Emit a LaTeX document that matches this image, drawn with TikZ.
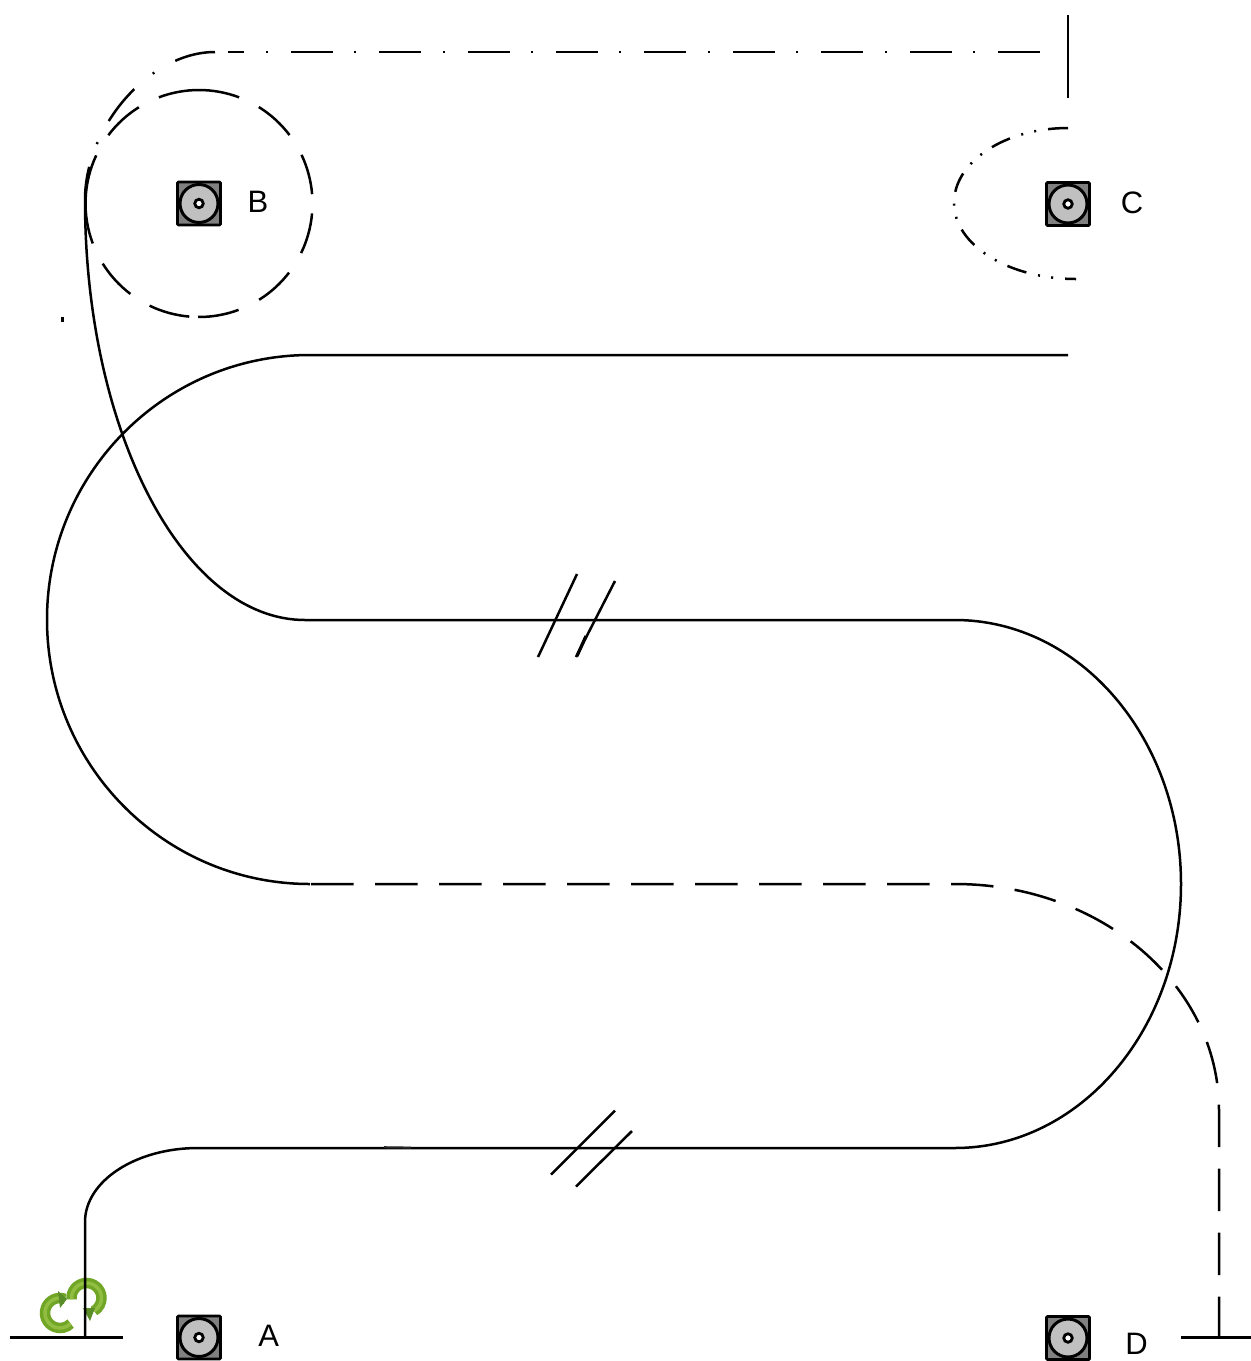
\documentclass[tikz,border=0pt]{standalone}
\usepackage{fontspec}
\usetikzlibrary{calc}
\setmainfont{Liberation Sans}
\tikzset{
  wire/.style={line width=2.5pt,black},
  longdash/.style={wire,dash pattern=on 42.5pt off 21.5pt},
  dashdot/.style={wire,dash pattern=on 42pt off 23pt on 2pt off 21.4pt},
  curvedashdot/.style={wire,dash pattern=on 41pt off 24pt on 2pt off 24pt},
  dashdotdot/.style={wire,dash pattern=on 20pt off 12pt on 2pt off 11.35pt on 2pt off 12pt},
  padsq/.style={draw=black,line width=2.8pt,fill={rgb,255:red,128;green,128;blue,128},rectangle,rounded corners=1pt,minimum size=43pt,inner sep=0pt},
  paddisc/.style={draw=black,line width=3pt,fill={rgb,255:red,192;green,192;blue,192},circle,minimum size=38pt,inner sep=0pt},
  padhole/.style={draw=black,line width=2.8pt,fill=white,circle,minimum size=8.5pt,inner sep=0pt},
  letter/.style={inner sep=0pt,font=\fontsize{31}{31}\selectfont,text=black},
  iconband/.style={line width=10.5pt,color={rgb,255:red,112;green,165;blue,38}},
  iconlight/.style={line width=3.5pt,color={rgb,255:red,145;green,190;blue,65}},
  iconhead/.style={fill={rgb,255:red,90;green,140;blue,40},draw=none},
}
\newcommand{\padsym}[2]{%
  \node[padsq] (#1sq) at (#2) {};
  \node[paddisc] (#1disc) at (#2) {};
  \node[padhole] (#1hole) at (#2) {};
}
\begin{document}
\begin{tikzpicture}[x=1pt,y=1pt,yscale=-1]
\useasboundingbox (0,0) rectangle (1251,1361);

% recycle icon
\draw[iconband] ($(60,1313)+(-70:15)$) arc[start angle=-70,end angle=-315,radius=15];
\draw[iconlight] ($(60,1313)+(-70:15)$) arc[start angle=-70,end angle=-315,radius=15];
\draw[iconband] ($(86.5,1298)+(175:15)$) arc[start angle=175,end angle=420,radius=15];
\draw[iconlight] ($(86.5,1298)+(175:15)$) arc[start angle=175,end angle=420,radius=15];
\fill[iconhead] (58,1291) -- (67,1299) -- (60,1308) -- cycle;
\fill[iconhead] (83,1308) -- (95,1308) -- (90,1321) -- cycle;

% main solid route
\draw[wire] (85,1337) -- (85,1222)
  arc[start angle=180,end angle=270,x radius=113,y radius=74]
  -- (955,1148)
  arc[start angle=90,end angle=-90,x radius=226,y radius=264]
  -- (305,620)
  arc[start angle=90,end angle=180,x radius=220,y radius=420];
% upper solid route
\draw[wire] (1068,355) -- (310,355)
  arc[start angle=-90,end angle=-270,x radius=263,y radius=264.5];
% long-dash route
\draw[longdash] (311,884) -- (955,884)
  arc[start angle=-90,end angle=0,x radius=264,y radius=226]
  -- (1219,1337);
% dash-dot route
\draw[dashdot] (1040,52) -- (228,52);
\draw[curvedashdot] (215,52) .. controls (150,52) and (85,126) .. (85,200);
% end bars
\draw[wire] (1068,15) -- (1068,98);
\draw[wire] (10,1337.5) -- (123,1337.5);
\draw[wire] (1181,1337.5) -- (1251,1337.5);
% circle around B
\foreach \a/\b in {-110.7/-69.3,-58.2/-37.1,-25.4/-4.7,5/25.9,37.5/58,69.6/90.5,94.9/115.8,127.2/148,159.4/205.1,217/238}{
  \draw[wire] ($(199,203.5)+(\a:113.5)$) arc[start angle=\a,end angle=\b,radius=113.5];
}
% half oval around C
\draw[dashdotdot] (1068,128) arc[start angle=-90,end angle=-180,x radius=114,y radius=75]
  arc[start angle=180,end angle=90,x radius=122,y radius=76];
% break marks
\draw[wire] (577,574) -- (538,657);
\draw[wire] (615,581) -- (576,657);
\draw[line width=3.2pt] (577,656) -- (586,636);
\draw[wire] (615,1110.5) -- (551,1174.5);
\draw[wire] (632,1131) -- (576,1186.5);
% small marks
\draw[line width=3pt] (62.5,316.5) -- (62.5,322);
\draw[line width=2pt,color={rgb,255:red,40;green,40;blue,40}] (384,1147.2) -- (411,1147.6);

% pads
\padsym{a}{199,1337.5}
\padsym{b}{199,203.5}
\padsym{c}{1068,204}
\padsym{d}{1068,1338}
\node[letter] (la) at (268.7,1336) {A};
\node[letter] (lb) at (258,202.3) {B};
\node[letter] (lc) at (1132,202.5) {C};
\node[letter] (ld) at (1136.5,1344) {D};
\end{tikzpicture}
\end{document}
